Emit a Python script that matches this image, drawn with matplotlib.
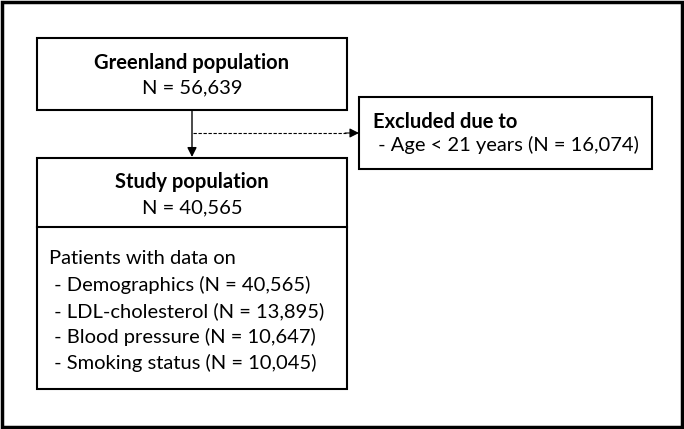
import matplotlib.pyplot as plt
from matplotlib.patches import Rectangle

# flowchart text
source_title = "Greenland population"
source_n = "N = 56,639"
excl_title = "Excluded due to"
excl_items = ["Age < 21 years (N = 16,074)"]
study_title = "Study population"
study_n = "N = 40,565"
data_header = "Patients with data on"
data_labels = ["Demographics", "LDL-cholesterol", "Blood pressure", "Smoking status"]
data_counts = ["40,565", "13,895", "10,647", "10,045"]

plt.rcParams['font.family'] = ['Lato', 'DejaVu Sans']
FS = 14.5

fig = plt.figure(figsize=(6.84, 4.29), dpi=100)
ax = fig.add_axes([0, 0, 1, 1])
ax.set_xlim(0, 684)
ax.set_ylim(429, 0)
ax.axis('off')

# outer frame
ax.add_patch(Rectangle((1.5, 1.5), 680, 425, fill=False, lw=2.5, ec='black'))

# boxes
ax.add_patch(Rectangle((37, 38), 310, 72, fill=False, lw=1.5, ec='black'))
ax.add_patch(Rectangle((37, 158), 310, 231, fill=False, lw=1.5, ec='black'))
ax.plot([37, 347], [227, 227], color='black', lw=1.5)
ax.add_patch(Rectangle((359, 97), 293, 72, fill=False, lw=1.5, ec='black'))

# arrows
ax.annotate('', xy=(192, 157), xytext=(192, 110),
            arrowprops=dict(arrowstyle='-|>', color='black', lw=1, mutation_scale=14,
                            shrinkA=0, shrinkB=0))
ax.plot([193, 346], [133, 133], color='black', lw=0.8, ls=(0, (3, 1.5)))
ax.annotate('', xy=(359, 133), xytext=(345, 133),
            arrowprops=dict(arrowstyle='-|>', color='black', lw=0.8, mutation_scale=14,
                            shrinkA=0, shrinkB=0))

# texts
ax.text(192, 63, source_title, ha='center', va='center', fontsize=FS, fontweight='bold')
ax.text(192, 88, source_n, ha='center', va='center', fontsize=FS)

ax.text(373, 122, excl_title, ha='left', va='center', fontsize=FS, fontweight='bold')
for i, it in enumerate(excl_items):
    ax.text(373, 145 + i * 26, " - " + it, ha='left', va='center', fontsize=FS)

ax.text(192, 182, study_title, ha='center', va='center', fontsize=FS, fontweight='bold')
ax.text(192, 208, study_n, ha='center', va='center', fontsize=FS)

ax.text(49, 258, data_header, ha='left', va='center', fontsize=FS)
for i, (lab, n) in enumerate(zip(data_labels, data_counts)):
    ax.text(49, 285 + i * 26, " - %s (N = %s)" % (lab, n), ha='left', va='center', fontsize=FS)

fig.savefig('out.png', dpi=100)
